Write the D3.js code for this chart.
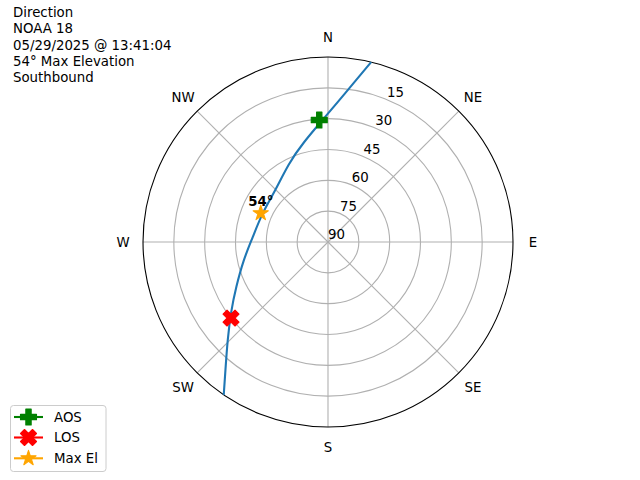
<!DOCTYPE html>
<html>
<head>
<meta charset="utf-8">
<script src="https://cdn.jsdelivr.net/npm/d3@7"></script>
<style>
html,body{margin:0;padding:0;background:#fff;}
svg{display:block;font-family:"DejaVu Sans",sans-serif;}
</style>
</head>
<body>
<svg id="chart" width="640" height="480"></svg>
<script>
// ---- data ----
const titleLines = ["Direction", "NOAA 18", "05/29/2025 @ 13:41:04", "54° Max Elevation", "Southbound"];
const directions = ["N", "NE", "E", "SE", "S", "SW", "W", "NW"];
const directionAngles = [0, 45, 90, 135, 180, 225, 270, 315];
const ringTicks = [15, 30, 45, 60, 75, 90];
const trackAz = [13.49, 7.58, 359.05, 345.6, 333.7, 313.1, 293.5, 273.0, 258.0, 243.9, 234.6, 225.7, 218.7, 214.3];
const trackEl = [0, 15.15, 28.7, 40.4, 47.1, 54.4, 55.0, 53.2, 47.9, 40.2, 32.1, 21.7, 10.2, 0];
const eventNames = ["AOS", "LOS", "Max El"];
const eventAz = [355.9, 231.9, 293.2];
const eventEl = [30.5, 30.05, 54.4];
const eventColors = ["green", "red", "orange"];
const eventShapes = ["plus", "x", "star"];
const maxElLabel = "54°";

// ---- layout ----
const svg = d3.select("#chart");
const cx = 328, cy = 242, R = 185;
const rScale = d3.scaleLinear().domain([90, 0]).range([0, R]);
const aScale = d3.scaleLinear().domain([0, 360]).range([0, 2 * Math.PI]);
const px = (az, el) => cx + rScale(el) * Math.sin(aScale(az));
const py = (az, el) => cy - rScale(el) * Math.cos(aScale(az));

// title
const title = svg.append("text").attr("x", 13).attr("y", 17.3).attr("font-size", "13.33px").attr("fill", "#000");
titleLines.forEach((t, i) => title.append("tspan").attr("x", 13).attr("y", 17.3 + i * 16.1).text(t));

const g = svg.append("g");
const gridColor = "#b0b0b0";

// grid circles
g.selectAll("circle.ring").data(ringTicks.filter(d => d < 90)).enter().append("circle")
  .attr("cx", cx).attr("cy", cy).attr("r", d => rScale(d))
  .attr("fill", "none").attr("stroke", gridColor).attr("stroke-width", 1.1);
// radial lines
g.selectAll("line.spoke").data(directionAngles).enter().append("line")
  .attr("x1", cx).attr("y1", cy)
  .attr("x2", d => px(d, 0)).attr("y2", d => py(d, 0))
  .attr("stroke", gridColor).attr("stroke-width", 1.1);
// outer frame
g.append("circle").attr("cx", cx).attr("cy", cy).attr("r", R)
  .attr("fill", "none").attr("stroke", "#000").attr("stroke-width", 1.1);

// direction labels
const labR = 205;
g.selectAll("text.dir").data(directions).enter().append("text")
  .attr("x", (d, i) => cx + labR * Math.sin(aScale(directionAngles[i])))
  .attr("y", (d, i) => cy - labR * Math.cos(aScale(directionAngles[i])) + 4.9)
  .attr("text-anchor", "middle").attr("font-size", "13.33px").attr("fill", "#000")
  .text(d => d);

// ring labels at 22.5 deg
g.selectAll("text.rl").data(ringTicks).enter().append("text")
  .attr("x", d => px(22.5, d) + 8.6)
  .attr("y", d => py(22.5, d) - 7.6 + 4.9)
  .attr("text-anchor", "middle").attr("font-size", "13.33px").attr("fill", "#000")
  .text(d => d);

// track
const pts = trackAz.map((a, i) => [px(a, trackEl[i]), py(a, trackEl[i])]);
g.append("path").attr("d", d3.line().curve(d3.curveBasis)(pts))
  .attr("fill", "none").attr("stroke", "#1f77b4").attr("stroke-width", 2.1);

// marker shapes (matplotlib-like)
function shapePath(shape, s) {
  const h = s / 2;
  if (shape === "plus") {
    const v = [[-1,-3],[1,-3],[1,-1],[3,-1],[3,1],[1,1],[1,3],[-1,3],[-1,1],[-3,1],[-3,-1],[-1,-1]];
    return "M" + v.map(p => [p[0] / 6 * s, p[1] / 6 * s].join(",")).join("L") + "Z";
  }
  if (shape === "x") {
    const v = [[-1,-2],[0,-1],[1,-2],[2,-1],[1,0],[2,1],[1,2],[0,1],[-1,2],[-2,1],[-1,0],[-2,-1]];
    return "M" + v.map(p => [p[0] / 4 * s, p[1] / 4 * s].join(",")).join("L") + "Z";
  }
  // star
  const pts = [];
  for (let k = 0; k < 10; k++) {
    const rr = k % 2 === 0 ? h : h * 0.381966;
    const ang = k * Math.PI / 5;
    pts.push([rr * Math.sin(ang), -rr * Math.cos(ang)]);
  }
  return "M" + pts.map(p => p.join(",")).join("L") + "Z";
}

const ms = 16;
eventNames.forEach((n, i) => {
  g.append("path").attr("d", shapePath(eventShapes[i], ms))
    .attr("transform", `translate(${px(eventAz[i], eventEl[i])},${py(eventAz[i], eventEl[i])})`)
    .attr("fill", eventColors[i]).attr("stroke", eventColors[i]).attr("stroke-width", 1.1)
    .attr("stroke-linejoin", "round");
});

// max el label
g.append("text")
  .attr("x", px(eventAz[2], eventEl[2]))
  .attr("y", py(eventAz[2], eventEl[2]) - 7.3)
  .attr("text-anchor", "middle").attr("font-size", "13.33px").attr("font-weight", "bold")
  .attr("fill", "#000").text(maxElLabel);

// legend
const lg = svg.append("g");
lg.append("rect").attr("x", 10.5).attr("y", 405.5).attr("width", 95.5).attr("height", 66)
  .attr("rx", 3).attr("fill", "#fff").attr("fill-opacity", 0.8).attr("stroke", "#cccccc").attr("stroke-width", 1);
const rowY = [417, 437.5, 458.3];
eventNames.forEach((n, i) => {
  lg.append("line").attr("x1", 14).attr("x2", 43).attr("y1", rowY[i]).attr("y2", rowY[i])
    .attr("stroke", eventColors[i]).attr("stroke-width", 2.1);
  lg.append("path").attr("d", shapePath(eventShapes[i], ms))
    .attr("transform", `translate(28.5,${rowY[i]})`)
    .attr("fill", eventColors[i]).attr("stroke", eventColors[i]).attr("stroke-width", 1.1)
    .attr("stroke-linejoin", "round");
  lg.append("text").attr("x", 54).attr("y", rowY[i] + 4.9)
    .attr("font-size", "13.33px").attr("fill", "#000").text(n);
});
</script>
</body>
</html>
